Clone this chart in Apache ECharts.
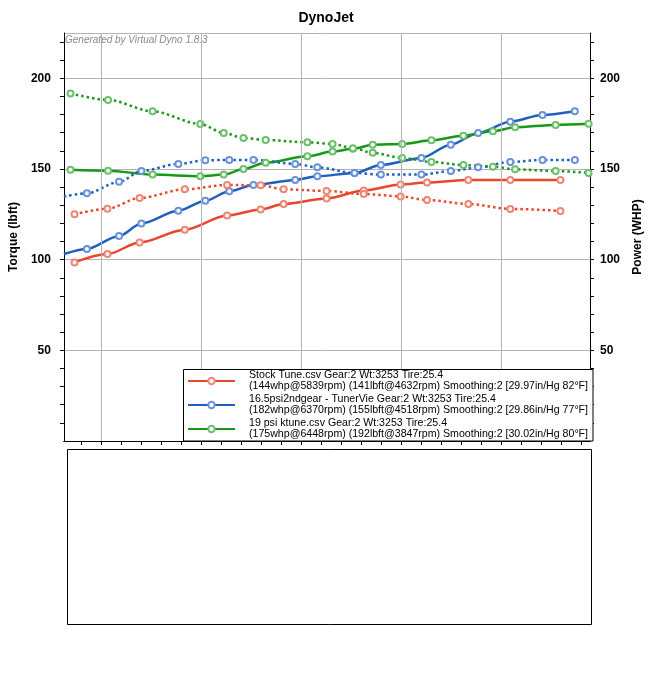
<!DOCTYPE html>
<html><head><meta charset="utf-8">
<script src="https://cdn.jsdelivr.net/npm/echarts@6.0.0/dist/echarts.min.js"></script>
<style>html,body{margin:0;padding:0;background:#fff}#c{width:652px;height:673px}</style>
</head><body><div id="c"></div><script>
// ---- data ----
const stockRpm = [3865, 4030, 4191, 4417, 4629, 4797, 4912, 5127, 5313, 5498, 5630, 5837, 6047, 6298];
const stockTq  = [125.0, 128.1, 134.0, 138.8, 141.2, 141.0, 138.8, 137.9, 136.2, 134.9, 132.9, 130.7, 128.0, 126.9];
const stockHp  = [98.5, 103.1, 109.5, 116.5, 124.3, 127.7, 130.7, 133.8, 138.1, 141.4, 142.6, 144.0, 144.0, 144.0];
const stockNoMarker = [];

const tvRpm = [3812, 3927, 4088, 4200, 4385, 4520, 4640, 4761, 4970, 5081, 5267, 5399, 5602, 5749, 5886, 6047, 6208, 6370];
const tvTq  = [134.8, 136.6, 142.9, 148.9, 152.8, 154.8, 155.0, 155.0, 152.8, 150.9, 147.8, 146.9, 146.9, 148.9, 150.9, 153.9, 155.0, 155.0];
const tvHp  = [103.1, 105.9, 113.1, 120.0, 127.0, 132.5, 137.7, 141.2, 144.0, 146.0, 147.8, 152.2, 156.1, 163.4, 169.9, 176.1, 179.8, 181.8];
const tvNoMarker = [3812];

const ktRpm = [3845, 4033, 4256, 4495, 4612, 4711, 4822, 5031, 5157, 5259, 5358, 5506, 5652, 5812, 5960, 6071, 6274, 6439];
const ktTq  = [191.7, 188.1, 181.8, 174.8, 169.9, 167.1, 166.0, 164.7, 163.8, 161.5, 158.9, 156.1, 153.9, 152.2, 151.3, 149.8, 148.9, 147.8];
const ktHp  = [149.6, 149.1, 146.9, 146.0, 146.9, 150.0, 153.5, 157.0, 159.6, 161.1, 163.4, 163.8, 165.8, 168.4, 170.8, 173.0, 174.3, 174.9];
const ktNoMarker = [];

const legendNames = ['stock', 'tunerview', 'ktune'];
const legendLine1 = [
  'Stock Tune.csv Gear:2 Wt:3253 Tire:25.4',
  '16.5psi2ndgear - TunerVie Gear:2 Wt:3253 Tire:25.4',
  '19 psi ktune.csv Gear:2 Wt:3253 Tire:25.4'
];
const legendLine2 = [
  '(144whp@5839rpm) (141lbft@4632rpm) Smoothing:2 [29.97in/Hg 82°F]',
  '(182whp@6370rpm) (155lbft@4518rpm) Smoothing:2 [29.86in/Hg 77°F]',
  '(175whp@6448rpm) (192lbft@3847rpm) Smoothing:2 [30.02in/Hg 80°F]'
];

const xMin = 3812, xMax = 6446;
const xGridLines = [4000, 4500, 5000, 5500, 6000];
const xMinorTicks = [3900, 4000, 4100, 4200, 4300, 4400, 4500, 4600, 4700, 4800, 4900, 5000, 5100, 5200, 5300, 5400, 5500, 5600, 5700, 5800, 5900, 6000, 6100, 6200, 6300, 6400];
const yMin = 0, yMax = 225;
const yLabelValues = [50, 100, 150, 200];
const yMinorTicks = [10, 20, 30, 40, 50, 60, 70, 80, 90, 100, 110, 120, 130, 140, 150, 160, 170, 180, 190, 200, 210, 220];

// ---- chart ----
const FONT = '"Liberation Sans", Arial, Helvetica, sans-serif';
const chart = echarts.init(document.getElementById('c'), null, {renderer: 'canvas'});

function mk(name, rpm, vals, noMarker, color, markColor, yIdx, dotted) {
  return {
    type: 'line', name: name, xAxisIndex: 0, yAxisIndex: yIdx,
    data: rpm.map((r, i) => noMarker.includes(r) ? {value: [r, vals[i]], symbol: 'none'} : [r, vals[i]]),
    smooth: 0.3, smoothMonotone: 'x',
    symbol: 'emptyCircle', symbolSize: 6,
    lineStyle: {color: color, width: 2.5, type: dotted ? [2.5, 3] : 'solid', cap: 'butt'},
    itemStyle: {color: markColor, borderWidth: 1},
    z: 3, emphasis: {disabled: true}, animation: false
  };
}

const RED = '#e8472b', RED_M = '#ef8574';
const BLUE = '#1f5fbf', BLUE_M = '#6a92da';
const GREEN = '#169a16', GREEN_M = '#6cbf6c';

function yAxisMain(pos, name) {
  return {
    type: 'value', position: pos, min: yMin, max: yMax, interval: 50,
    name: name, nameLocation: 'middle', nameRotate: 90, nameGap: pos === 'left' ? 40 : 42,
    nameTextStyle: {fontFamily: FONT, fontSize: 12, fontWeight: 'bold', color: '#000'},
    axisLine: {show: true, lineStyle: {color: '#000', width: 1}},
    axisTick: {show: false},
    axisLabel: {show: true, margin: pos === 'left' ? 13 : 10, fontFamily: FONT, fontSize: 12, fontWeight: 'bold', color: '#000',
      formatter: v => yLabelValues.includes(v) ? String(v) : ''},
    splitLine: {show: pos === 'left', lineStyle: {color: '#b4b4b4', width: 1}}
  };
}
function yAxisTicks(pos) {
  return {
    type: 'value', position: pos, min: yMin, max: yMax,
    axisLine: {show: false},
    axisTick: {show: true, length: 4, lineStyle: {color: '#000'}, customValues: yMinorTicks},
    axisLabel: {show: false}, splitLine: {show: false}
  };
}

const option = {
  backgroundColor: '#fff',
  animation: false,
  textStyle: {fontFamily: FONT},
  title: {
    text: 'DynoJet', left: 'center', top: 6,
    textStyle: {fontFamily: FONT, fontSize: 14, fontWeight: 'bold', color: '#000'}
  },
  grid: {left: 61, right: 59, top: 33, bottom: 232, containLabel: false},
  xAxis: [
    {type: 'value', position: 'bottom', min: xMin, max: xMax,
      axisLine: {show: true, lineStyle: {color: '#000', width: 1}},
      axisTick: {show: true, length: 4, lineStyle: {color: '#000'}, customValues: xMinorTicks},
      axisLabel: {show: false}, splitLine: {show: false}},
    {type: 'value', position: 'top', min: xMin, max: xMax,
      axisLine: {show: true, lineStyle: {color: '#000', width: 1}},
      axisTick: {show: true, inside: true, length: 3, lineStyle: {color: '#000'}, customValues: xMinorTicks},
      axisLabel: {show: false}, splitLine: {show: false}}
  ],
  yAxis: [
    yAxisMain('left', 'Torque (lbft)'),
    yAxisMain('right', 'Power (WHP)'),
    yAxisTicks('left'),
    yAxisTicks('right')
  ],
  legend: {
    data: legendNames, orient: 'vertical', left: 187, top: 370, padding: 0,
    itemWidth: 47, itemHeight: 8, itemGap: 2, z: 20, selectedMode: false,
    textStyle: {fontFamily: FONT, fontSize: 10.6, lineHeight: 11, color: '#000', padding: [0, 0, 0, 9]},
    formatter: n => { const i = legendNames.indexOf(n); return legendLine1[i] + '\n' + legendLine2[i]; }
  },
  graphic: [
    {type: 'text', left: 65, top: 35, z: 10, silent: true,
      style: {text: 'Generated by Virtual Dyno 1.8.3', fill: '#8a8a8a', font: 'italic 10px ' + FONT}},
    {type: 'rect', z: 10, silent: true, shape: {x: 183.5, y: 369.5, width: 409.5, height: 71.5},
      style: {fill: '#fff', stroke: '#000', lineWidth: 1}},
    {type: 'rect', z: 10, silent: true, shape: {x: 67.5, y: 449.5, width: 524, height: 175},
      style: {fill: '#fff', stroke: '#000', lineWidth: 1}}
  ],
  series: [
    {type: 'line', name: 'grid', data: [], xAxisIndex: 0, yAxisIndex: 0, z: 1, silent: true,
      markLine: {silent: true, symbol: 'none', label: {show: false}, animation: false,
        lineStyle: {color: '#b4b4b4', width: 1, type: 'solid'},
        data: xGridLines.map(v => ({xAxis: v}))}},
    mk('stock', stockRpm, stockHp, stockNoMarker, RED, RED_M, 1, false),
    mk('tunerview', tvRpm, tvHp, tvNoMarker, BLUE, BLUE_M, 1, false),
    mk('ktune', ktRpm, ktHp, ktNoMarker, GREEN, GREEN_M, 1, false),
    mk('stock tq', stockRpm, stockTq, stockNoMarker, RED, RED_M, 0, true),
    mk('tunerview tq', tvRpm, tvTq, tvNoMarker, BLUE, BLUE_M, 0, true),
    mk('ktune tq', ktRpm, ktTq, ktNoMarker, GREEN, GREEN_M, 0, true)
  ]
};
chart.setOption(option);
</script></body></html>
